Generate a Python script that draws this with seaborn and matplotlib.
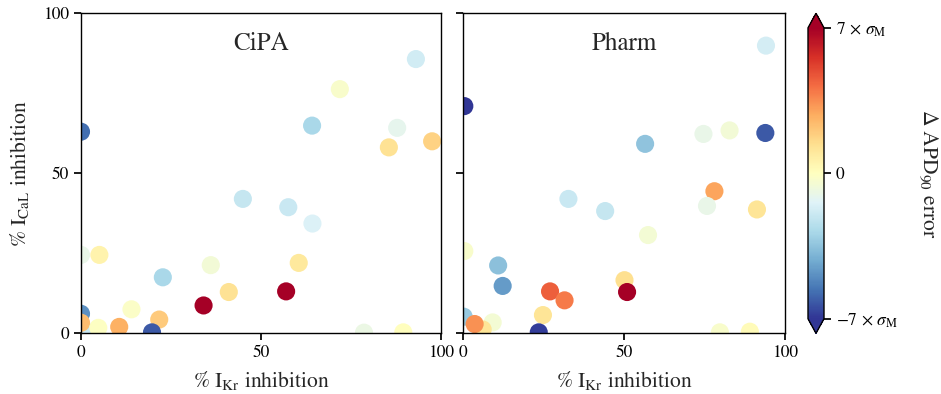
import numpy as np
import pandas as pd
import matplotlib
matplotlib.use("Agg")
import matplotlib.pyplot as plt
import matplotlib.colors as mcolors
import matplotlib.cm as cm
import seaborn as sns

# CiPA compounds: % IKr block, % ICaL block, APD90 error (in units of sigma_M)
cipa_ikr = [92.9, 71.8, 0.0, 64.1, 87.7, 85.4, 97.4, 44.9, 57.5, 64.2,
            0.0, 5.1, 36.0, 60.4, 22.7, 41.0, 34.0, 56.9, 14.0, 21.7,
            1.5, 0.0, 0.0, 4.8, 10.6, 19.7, 78.5, 89.4]
cipa_ical = [85.7, 76.3, 63.0, 64.9, 64.2, 58.1, 60.0, 42.0, 39.4, 34.3,
             24.5, 24.5, 21.3, 22.0, 17.5, 12.9, 8.7, 13.1, 7.5, 4.3,
             0.5, 6.1, 3.3, 1.7, 2.0, 0.3, 0.2, 0.3]
cipa_err = [-1.8, -0.3, -5.7, -2.8, -1.1, 1.3, 1.8, -2.1, -2.0, -1.5,
            -1.0, 0.5, -0.6, 1.0, -2.8, 1.3, 7.0, 7.0, -0.2, 2.0,
            -2.0, -4.9, 2.4, -0.1, 2.7, -6.2, -0.9, 0.0]

# Pharm compounds
pharm_ikr = [94.1, 0.5, 74.7, 82.8, 93.9, 56.6, 78.1, 32.8, 44.2, 75.8,
             91.3, 57.5, 0.5, 11.0, 12.4, 27.1, 31.6, 50.2, 51.0, 24.9,
             9.3, 0.3, 6.2, 3.7, 23.6, 79.8, 89.1]
pharm_ical = [89.9, 71.0, 62.3, 63.4, 62.6, 59.2, 44.4, 42.0, 38.2, 39.8,
              38.7, 30.7, 25.7, 21.2, 14.8, 13.1, 10.3, 16.6, 12.9, 5.7,
              3.4, 5.2, 1.2, 2.9, 0.3, 0.3, 0.5]
pharm_err = [-1.7, -7.0, -1.0, -0.6, -6.2, -3.5, 3.0, -2.0, -2.1, -1.0,
             1.2, -0.5, -0.3, -3.6, -4.6, 4.5, 3.9, 1.4, 7.0, 1.2,
             -0.5, -3.3, 1.2, 3.4, -6.8, -0.3, 0.2]

panel_titles = ["CiPA", "Pharm"]
axis_ticks = [0, 50, 100]
cbar_ticks = [-7, 0, 7]
cbar_ticklabels = [r"$-7\,\times\,\sigma_\mathrm{M}$", "0",
                   r"$7\,\times\,\sigma_\mathrm{M}$"]

sns.set_theme(style="ticks")
plt.rcParams["font.family"] = ["STIXGeneral", "Liberation Serif", "DejaVu Serif"]
plt.rcParams["mathtext.fontset"] = "stix"
plt.rcParams["xtick.major.size"] = 5
plt.rcParams["ytick.major.size"] = 5
plt.rcParams["axes.edgecolor"] = "black"
plt.rcParams["xtick.color"] = "black"
plt.rcParams["ytick.color"] = "black"

W, H = 941, 394
fig = plt.figure(figsize=(W / 100, H / 100), dpi=100)

bottom = (H - 333.3) / H
height = 320 / H
ax1 = fig.add_axes([81 / W, bottom, 360.5 / W, height])
ax2 = fig.add_axes([462.7 / W, bottom, 322.3 / W, height])
cax = fig.add_axes([808 / W, bottom, 16 / W, height])

norm = mcolors.Normalize(vmin=-7, vmax=7)
cmap = "RdYlBu_r"

datasets = [
    pd.DataFrame({"ikr": cipa_ikr, "ical": cipa_ical, "err": cipa_err}),
    pd.DataFrame({"ikr": pharm_ikr, "ical": pharm_ical, "err": pharm_err}),
]

label_fs = 15.5
tick_fs = 12.5

for ax, df, title in zip([ax1, ax2], datasets, panel_titles):
    sns.scatterplot(data=df, x="ikr", y="ical", hue="err", palette=cmap,
                    hue_norm=norm, s=170, linewidth=0, legend=False, ax=ax)
    ax.set_xlim(0, 100)
    ax.set_ylim(0, 100)
    ax.set_xticks(axis_ticks)
    ax.set_yticks(axis_ticks)
    ax.tick_params(labelsize=tick_fs)
    ax.set_xlabel(r"% $\mathrm{I_{Kr}}$ inhibition", fontsize=label_fs, labelpad=6)
    ax.text(0.5, 0.905, title, transform=ax.transAxes, ha="center",
            va="center", fontsize=18)
    for sp in ax.spines.values():
        sp.set_linewidth(1.0)

ax1.set_ylabel(r"% $\mathrm{I_{CaL}}$ inhibition", fontsize=label_fs, labelpad=9)
ax2.set_ylabel("")
ax2.tick_params(labelleft=False)

sm = cm.ScalarMappable(norm=norm, cmap=cmap)
cbar = fig.colorbar(sm, cax=cax, extend="both")
cbar.set_ticks(cbar_ticks)
cbar.set_ticklabels(cbar_ticklabels)
cbar.ax.tick_params(labelsize=tick_fs, length=5)
cbar.outline.set_linewidth(1.0)
cbar.set_label(r"$\Delta$ APD$_{90}$ error", rotation=270, fontsize=label_fs,
               labelpad=30)

fig.savefig("out.png", dpi=100)
